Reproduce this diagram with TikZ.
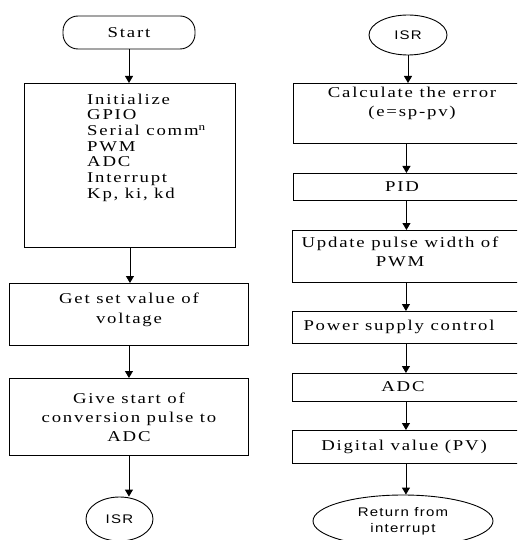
\documentclass[tikz,border=0pt]{standalone}
\usepackage{fontspec}
\usetikzlibrary{shapes.geometric,arrows.meta}
\newfontfamily\wideserif[FakeStretch=1.25,LetterSpace=12]{Liberation Serif}
\newfontfamily\widesans[FakeStretch=1.2,LetterSpace=10]{Liberation Sans}
\tikzset{
  boxed/.style={draw=black, line width=0.9pt, rectangle, inner sep=0pt, anchor=north west},
  term/.style={draw=black, line width=0.9pt, inner sep=0pt},
  ser/.style={font=\wideserif\fontsize{15}{19}\selectfont, align=center, inner sep=0pt, text=black},
  sanstxt/.style={font=\widesans\fontsize{12.5}{16}\selectfont, align=center, inner sep=0pt, text=black},
  arr/.style={-{Triangle[width=8pt,length=7pt]}, line width=0.9pt, draw=black}
}
\begin{document}
\begin{tikzpicture}[x=1pt,y=-1pt]
\useasboundingbox (0,0) rectangle (517,540);
\fill[white] (0,0) rectangle (517,540);
\clip (0,0) rectangle (517,540);
% ---------- left column ----------
\node[term, rounded corners=15pt, minimum width=132pt, minimum height=33pt, ser] (start) at (129,32.5) {Start};
\node[boxed, minimum width=211pt, minimum height=164pt] (init) at (24,83) {};
\node[ser, align=left, anchor=north west, font=\wideserif\fontsize{15}{15.7}\selectfont] (initt) at (87,93.5)
  {Initialize\\GPIO\\Serial comm\textsuperscript{n}\\PWM\\ADC\\Interrupt\\Kp, ki, kd};
\node[boxed, minimum width=239pt, minimum height=62pt] (get) at (9,283) {};
\node[ser, font=\wideserif\fontsize{15}{20}\selectfont] (gett) at (129,310) {Get set value of\\voltage};
\node[boxed, minimum width=239pt, minimum height=77pt] (give) at (9,378) {};
\node[ser] (givet) at (129,417) {Give start of\\conversion pulse to\\ADC};
\node[term, ellipse, minimum width=67pt, minimum height=44pt, sanstxt] (isrL) at (119.5,519) {ISR};
% ---------- right column ----------
\node[term, ellipse, minimum width=78pt, minimum height=40pt, sanstxt] (isrR) at (408,35) {ISR};
\node[boxed, minimum width=226pt, minimum height=60pt] (calc) at (293,83) {};
\node[ser] (calct) at (412,103) {Calculate the error\\(e=sp-pv)};
\node[boxed, minimum width=226pt, minimum height=27pt] (pid) at (293,173) {};
\node[ser] (pidt) at (402,187) {PID};
\node[boxed, minimum width=227pt, minimum height=52pt] (upd) at (292,230) {};
\node[ser] (updt) at (400,252) {Update pulse width of\\PWM};
\node[boxed, minimum width=227pt, minimum height=32pt] (pow) at (292,311) {};
\node[ser] (powt) at (399,327) {Power supply control};
\node[boxed, minimum width=227pt, minimum height=28pt] (adc) at (292,373) {};
\node[ser] (adct) at (403,387) {ADC};
\node[boxed, minimum width=227pt, minimum height=33pt] (dig) at (292,430) {};
\node[ser] (digt) at (404,446.5) {Digital value (PV)};
\node[term, ellipse, minimum width=180pt, minimum height=52pt, sanstxt] (ret) at (403,521) {Return from\\interrupt};
% ---------- connectors ----------
\draw[arr] (start.south) -- (start.south |- init.north);
\draw[arr] (init.south) -- (init.south |- get.north);
\draw[arr] (get.south) -- (get.south |- give.north);
\draw[arr] (give.south) -- (give.south |- isrL.north);
\draw[arr] (isrR.south) -- (isrR.south |- calc.north);
\draw[arr] (calc.south) -- (calc.south |- pid.north);
\draw[arr] (pid.south) -- (pid.south |- upd.north);
\draw[arr] (upd.south) -- (upd.south |- pow.north);
\draw[arr] (pow.south) -- (pow.south |- adc.north);
\draw[arr] (adc.south) -- (adc.south |- dig.north);
\draw[arr] (dig.south) -- (dig.south |- ret.north);
\end{tikzpicture}
\end{document}
